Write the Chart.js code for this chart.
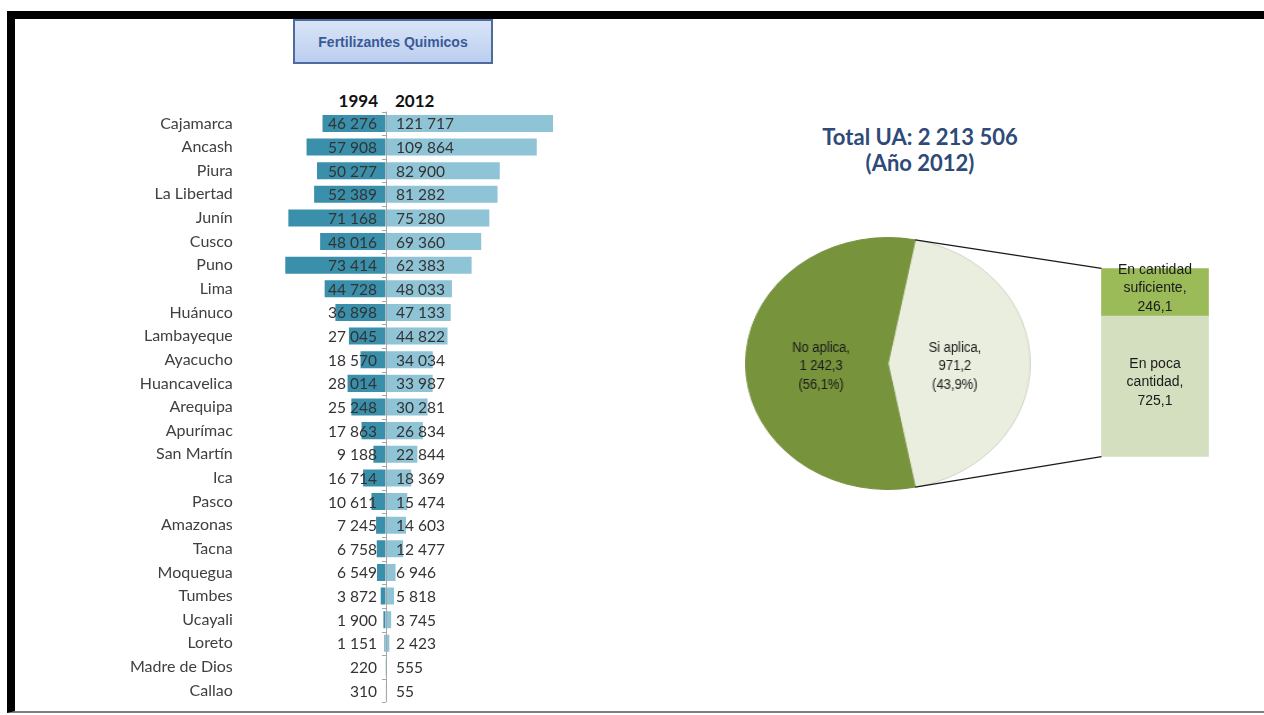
<!DOCTYPE html>
<html><head><meta charset="utf-8">
<script src="https://cdn.jsdelivr.net/npm/chart.js@4.4.1/dist/chart.umd.min.js"></script>
<style>
html,body{margin:0;padding:0;background:#fff;width:1264px;height:715px;overflow:hidden;position:relative;font-family:Lato,sans-serif}
#frame{position:absolute;left:7px;top:11px;width:1300px;height:702px;box-sizing:border-box;border-top:8px solid #000;border-left:8px solid #000;border-bottom:2px solid #7f7f7f}
#tbox{position:absolute;left:293px;top:19px;width:200px;height:45px;box-sizing:border-box;border:2px solid #4f6b9d;background:linear-gradient(#d9e4f7,#bccff0);font:bold 14px "Liberation Sans",Arial,sans-serif;color:#3a5a96;display:flex;align-items:center;justify-content:center;z-index:2}
.yr{position:absolute;top:90px;width:60px;height:20px;line-height:20px;font:bold 17px Lato,sans-serif;color:#111}
#total{position:absolute;left:770px;top:124px;width:300px;text-align:center;font:bold 22px Lato,sans-serif;color:#2f4a78;line-height:26px}
canvas{position:absolute}
#bars{left:90px;top:86px}
#pie{left:745px;top:237px;transform-origin:0 0;transform:scaleX(1.13)}
#sub{left:1085px;top:250px}
#ov{left:0;top:0;pointer-events:none;z-index:3}
</style></head>
<body>
<div id="frame"></div>
<div id="tbox">Fertilizantes Quimicos</div>
<div class="yr" style="left:318px;text-align:right">1994</div>
<div class="yr" style="left:395px;text-align:left">2012</div>
<div id="total">Total UA: 2 213 506<br>(Año 2012)</div>
<canvas id="bars" width="480" height="642"></canvas>
<canvas id="pie" width="253" height="253"></canvas>
<canvas id="sub" width="140" height="220"></canvas>
<canvas id="ov" width="1264" height="715"></canvas>
<script>
// ---- data ----
const regions = ['Cajamarca','Ancash','Piura','La Libertad','Junín','Cusco','Puno','Lima','Huánuco','Lambayeque','Ayacucho','Huancavelica','Arequipa','Apurímac','San Martín','Ica','Pasco','Amazonas','Tacna','Moquegua','Tumbes','Ucayali','Loreto','Madre de Dios','Callao'];
const v1994 = [46276,57908,50277,52389,71168,48016,73414,44728,36898,27045,18570,28014,25248,17863,9188,16714,10611,7245,6758,6549,3872,1900,1151,220,310];
const v2012 = [121717,109864,82900,81282,75280,69360,62383,48033,47133,44822,34034,33987,30281,26834,22844,18369,15474,14603,12477,6946,5818,3745,2423,555,55];
const seriesNames = ['1994','2012'];

const pieLabels = ['Si aplica','No aplica'];
const pieValues = [971.2, 1242.3];

const subLabels = [['En poca','cantidad,'],['En cantidad','suficiente,']];
const subValues = [725.1, 246.1];

// ---- helpers ----
const fmtInt = n => String(n).replace(/\B(?=(\d{3})+(?!\d))/g,' ');
const fmtDec = n => { const p = n.toFixed(1).split('.'); return fmtInt(p[0]) + ',' + p[1]; };

Chart.defaults.font.family = 'Lato';

// ---- left diverging bars ----
const valueLabels = { id:'vl', afterDatasetsDraw(chart){
  const ctx = chart.ctx, x0 = chart.scales.x.getPixelForValue(0), ys = chart.scales.y;
  ctx.save();
  ctx.font = '15.5px Lato'; ctx.fillStyle = '#333'; ctx.textBaseline = 'middle';
  chart.data.datasets.forEach((ds,i)=>{
    chart.getDatasetMeta(i).data.forEach((el,j)=>{
      const t = fmtInt(ds.raw[j]);
      if(i===0){ ctx.textAlign='right'; ctx.fillText(t, x0-9, el.y+1); }
      else { ctx.textAlign='left'; ctx.fillText(t, x0+10, el.y+1); }
    });
  });
  ctx.strokeStyle = '#a6a6a6'; ctx.lineWidth = 1; ctx.beginPath();
  for(let k=0;k<=chart.data.labels.length;k++){
    const y = Math.round(ys.getPixelForValue(k-0.5))+0.5;
    ctx.moveTo(x0-4,y); ctx.lineTo(x0,y);
  }
  ctx.stroke(); ctx.restore();
}};

const barsChart = new Chart(document.getElementById('bars'), {
  type:'bar',
  data:{ labels:regions, datasets:[
    {label:seriesNames[0], data:v1994.map(v=>-v), raw:v1994, backgroundColor:'#3a8fab'},
    {label:seriesNames[1], data:v2012, raw:v2012, backgroundColor:'#8fc3d6'}
  ]},
  options:{
    indexAxis:'y', responsive:false, animation:false, events:[],
    layout:{padding:{top:11.2,bottom:9.2,left:0,right:5.6}},
    plugins:{legend:{display:false}, tooltip:{enabled:false}},
    datasets:{bar:{categoryPercentage:1, barPercentage:0.72, borderWidth:0}},
    scales:{
      x:{stacked:true, min:-100000, max:130000,
         ticks:{display:false, stepSize:10000},
         grid:{drawTicks:false, z:1, color:c=> (c.tick && c.tick.value===0) ? '#a6a6a6' : 'rgba(0,0,0,0)'},
         border:{display:false}, afterFit:s=>{ s.height = 0; }},
      y:{stacked:true, grid:{display:false, drawTicks:false}, border:{display:false},
         ticks:{padding:16, color:'#404040', font:{family:'Lato', size:16}},
         afterFit:s=>{ s.width = 158.8; }}
    }
  },
  plugins:[valueLabels]
});

// ---- pie ----
const pieTotal = pieValues.reduce((a,b)=>a+b,0);
const pieLabelPlugin = { id:'pl', afterDatasetsDraw(chart){
  const ctx = chart.ctx; ctx.save();
  ctx.font = '14px "Liberation Sans", Arial, sans-serif'; ctx.fillStyle = '#1a1a1a';
  ctx.textAlign = 'center'; ctx.textBaseline = 'middle';
  chart.getDatasetMeta(0).data.forEach((arc,i)=>{
    const p = arc.getProps(['x','y','startAngle','endAngle','outerRadius']);
    const a = (p.startAngle+p.endAngle)/2, rf = 0.47;
    const px = p.x + Math.cos(a)*p.outerRadius*rf, py = p.y + Math.sin(a)*p.outerRadius*rf;
    const lines = [pieLabels[i]+',', fmtDec(pieValues[i]), '('+(pieValues[i]/pieTotal*100).toFixed(1).replace('.',',')+'%)'];
    ctx.save(); ctx.translate(px, py+3); ctx.scale(0.82,1);
    lines.forEach((l,k)=> ctx.fillText(l, 0, (k-1)*18.5));
    ctx.restore();
  });
  ctx.restore();
}};
const pieChart = new Chart(document.getElementById('pie'), {
  type:'pie',
  data:{ labels:pieLabels, datasets:[{ data:pieValues,
    backgroundColor:['#e9eedf','#77933c'], borderColor:['#cfd5c4','#77933c'], borderWidth:1 }]},
  options:{ responsive:false, animation:false, events:[],
    rotation: 90 - (pieValues[0]/pieTotal*360)/2,
    layout:{padding:0},
    plugins:{legend:{display:false}, tooltip:{enabled:false}} },
  plugins:[pieLabelPlugin]
});

// ---- sub stacked bar ----
const subTotal = subValues.reduce((a,b)=>a+b,0);
const subLabelPlugin = { id:'sl', afterDatasetsDraw(chart){
  const ctx = chart.ctx; ctx.save();
  ctx.font = '14px "Liberation Sans", Arial, sans-serif'; ctx.fillStyle = '#1a1a1a';
  ctx.textAlign = 'center'; ctx.textBaseline = 'middle';
  chart.data.datasets.forEach((ds,i)=>{
    const el = chart.getDatasetMeta(i).data[0];
    const p = el.getProps(['x','y','base']);
    const cy = (p.y+p.base)/2 - 4;
    const lines = subLabels[i].concat([fmtDec(subValues[i])]);
    lines.forEach((l,k)=> ctx.fillText(l, p.x, cy + (k-1)*18.5));
  });
  ctx.restore();
}};
const subChart = new Chart(document.getElementById('sub'), {
  type:'bar',
  data:{ labels:[''], datasets: subValues.map((v,i)=>({ label:subLabels[i].join(' '), data:[v],
    backgroundColor: i===0 ? '#d3dfbf' : '#9bba58', barThickness:107, borderWidth:0 })) },
  options:{ responsive:false, animation:false, events:[],
    layout:{padding:{top:18.3,bottom:13.3,left:0,right:0}},
    plugins:{legend:{display:false}, tooltip:{enabled:false}},
    scales:{ x:{display:false, stacked:true}, y:{display:false, stacked:true, min:0, max:subTotal} } },
  plugins:[subLabelPlugin]
});

// ---- connector lines (from chart elements) ----
function drawConnectors(){
  const ov = document.getElementById('ov'), c = ov.getContext('2d');
  c.clearRect(0,0,ov.width,ov.height);
  const pc = document.getElementById('pie'), pr = pc.getBoundingClientRect();
  const s = pr.width / pc.offsetWidth;
  const arc = pieChart.getDatasetMeta(0).data[0].getProps(['x','y','startAngle','endAngle','outerRadius']);
  const pt = a => ({ x: pr.left + (arc.x + arc.outerRadius*Math.cos(a))*s, y: pr.top + arc.y + arc.outerRadius*Math.sin(a) });
  const pTop = pt(arc.startAngle), pBot = pt(arc.endAngle);
  const sc = document.getElementById('sub'), sr = sc.getBoundingClientRect();
  const top = subChart.getDatasetMeta(1).data[0].getProps(['x','y','width']);
  const bot = subChart.getDatasetMeta(0).data[0].getProps(['x','base','width']);
  c.strokeStyle = '#1a1a1a'; c.lineWidth = 1.2; c.beginPath();
  c.moveTo(pTop.x, pTop.y); c.lineTo(sr.left + top.x - top.width/2, sr.top + top.y);
  c.moveTo(pBot.x, pBot.y); c.lineTo(sr.left + bot.x - bot.width/2, sr.top + bot.base);
  c.stroke();
}
drawConnectors();
</script>
</body></html>
